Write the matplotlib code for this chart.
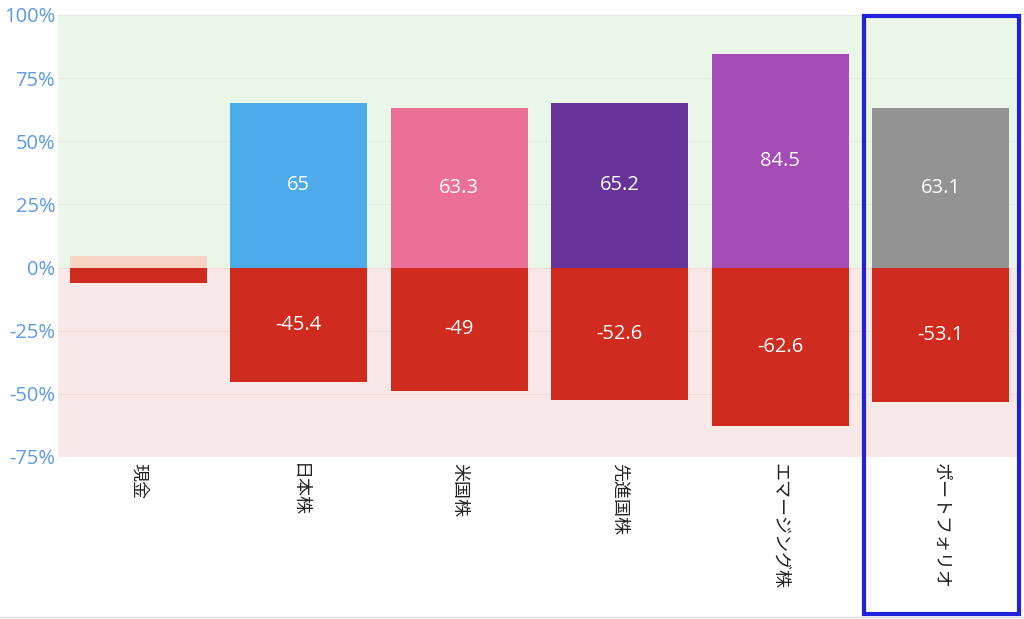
import matplotlib
matplotlib.use("Agg")
import matplotlib.pyplot as plt
from matplotlib.patches import Rectangle

categories = ["現金", "日本株", "米国株", "先進国株", "エマージング株", "ポートフォリオ"]
best_values = [4.5, 65, 63.3, 65.2, 84.5, 63.1]
worst_values = [-6, -45.4, -49, -52.6, -62.6, -53.1]
show_labels = [False, True, True, True, True, True]
pos_colors = ["#F6D3C2", "#4DABE9", "#EC6F96", "#663399", "#A44BB6", "#939393"]
neg_color = "#D02B1F"
yticks = [-75, -50, -25, 0, 25, 50, 75, 100]

plt.rcParams['font.family'] = ['Noto Sans CJK JP', 'DejaVu Sans']

fig = plt.figure(figsize=(10.24, 6.19), dpi=100)
ax = fig.add_axes([58/1024, 1 - 457/619, (1021 - 58)/1024, (457 - 15)/619])

ax.set_xlim(-0.5, len(categories) - 0.5)
ax.set_ylim(-75, 100)
ax.axhspan(0, 100, color="#EAF7E8", zorder=0)
ax.axhspan(-75, 0, color="#F9E8E8", zorder=0)
for t in yticks:
    ax.axhline(t, color="#E2ECE0" if t > 0 else "#F2DADA", lw=0.8, zorder=0.5)

x = list(range(len(categories)))
w = 0.855
ax.bar(x, best_values, width=w, color=pos_colors, zorder=2)
ax.bar(x, worst_values, width=w, color=neg_color, zorder=2)

for i in x:
    if show_labels[i]:
        ax.text(i, best_values[i] / 2, f"{best_values[i]:g}", ha="center", va="center",
                color="white", fontsize=14.5, family=["Open Sans", "DejaVu Sans"], zorder=3)
        ax.text(i, worst_values[i] / 2, f"{worst_values[i]:g}", ha="center", va="center",
                color="white", fontsize=14.5, family=["Open Sans", "DejaVu Sans"], zorder=3)

ax.set_yticks(yticks)
ax.set_yticklabels([f"{t}%" for t in yticks], color="#5C9AE6", fontsize=14.5,
                   family=["Open Sans", "DejaVu Sans"])
ax.set_xticks(x)
ax.set_xticklabels(categories, rotation=-90, fontsize=13, color="#222222", va="top")
ax.tick_params(axis="y", length=0, pad=2)
ax.tick_params(axis="x", length=0, pad=4)
for s in ax.spines.values():
    s.set_visible(False)

fig.patches.append(Rectangle((864/1024, 1 - 614/619), (1019 - 864)/1024, (614 - 16)/619,
                             transform=fig.transFigure, fill=False, edgecolor="#1F22DA",
                             lw=3, zorder=10))
fig.add_artist(plt.Line2D([0, 1], [1 - 617/619, 1 - 617/619], transform=fig.transFigure,
                          color="#DDDDDD", lw=1))

fig.savefig("out.png", dpi=100)
